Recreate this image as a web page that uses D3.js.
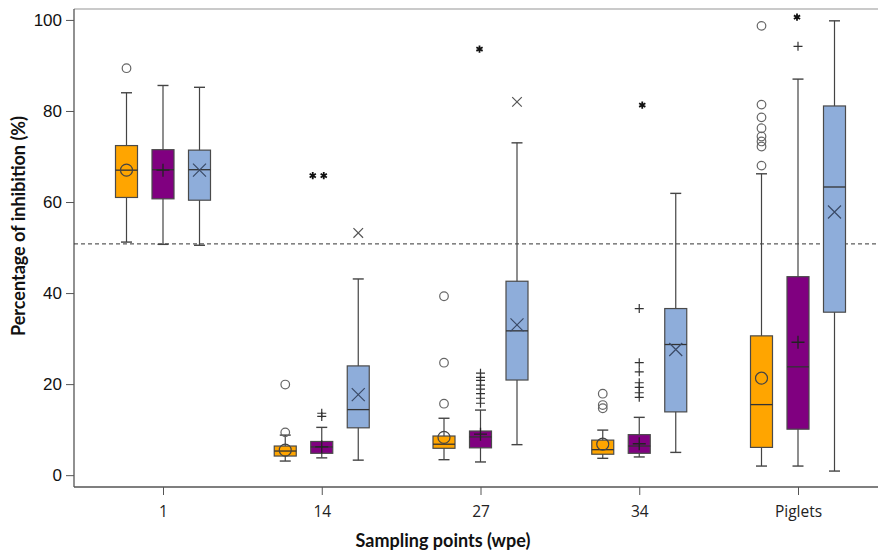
<!DOCTYPE html>
<html>
<head>
<meta charset="utf-8">
<script src="https://cdn.jsdelivr.net/npm/d3@7"></script>
<style>
  body { margin: 0; background: #fff; }
  svg { display: block; }
</style>
</head>
<body>
<div id="chart"></div>
<script>
// sampling points on the x axis
const categories = ["1", "14", "27", "34", "Piglets"];
const series = ["orange", "purple", "blue"];
const yTicks = [0, 20, 40, 60, 80, 100];
const cutoff = 50.8;

// box stats per category: [lower whisker, q1, median, q3, upper whisker, mean]
const orangeStats = [
  [51.2, 61.0, 67.0, 72.4, 84.0, 67.0],
  [3.1, 4.2, 5.3, 6.4, 8.8, 5.5],
  [3.4, 5.9, 6.8, 8.6, 12.5, 8.3],
  [3.7, 4.6, 5.6, 7.7, 9.9, 6.8],
  [2.0, 6.1, 15.5, 30.6, 66.2, 21.3]
];
const purpleStats = [
  [50.7, 60.7, 67.1, 71.5, 85.6, 67.0],
  [3.8, 4.8, 6.2, 7.4, 10.5, 6.2],
  [2.9, 6.0, 8.4, 9.7, 14.3, 9.0],
  [4.0, 4.8, 6.4, 8.9, 12.7, 6.9],
  [2.0, 10.1, 23.8, 43.6, 87.0, 29.2]
];
const blueStats = [
  [50.5, 60.4, 67.1, 71.4, 85.2, 67.0],
  [3.3, 10.4, 14.4, 24.0, 43.1, 17.7],
  [6.7, 20.9, 31.7, 42.6, 73.0, 33.0],
  [5.0, 13.9, 28.7, 36.6, 61.9, 27.6],
  [0.9, 35.8, 63.3, 81.1, 99.8, 57.8]
];

// outliers: [category index, value]
const orangeOutliers = [
  [0, 89.4], [1, 19.9], [1, 9.4],
  [2, 39.3], [2, 24.7], [2, 15.7],
  [3, 17.9], [3, 15.4], [3, 14.7],
  [4, 98.7], [4, 81.4], [4, 78.6], [4, 76.2], [4, 74.4], [4, 73.3], [4, 72.2], [4, 68.0]
];
const purpleOutliers = [
  [1, 13.6], [1, 12.9],
  [2, 22.4], [2, 21.5], [2, 20.8], [2, 19.8], [2, 18.9], [2, 17.9], [2, 16.9], [2, 15.8],
  [3, 36.6], [3, 24.7], [3, 22.7], [3, 20.3], [3, 19.3], [3, 18.1], [3, 17.1],
  [4, 94.2]
];
const blueOutliers = [[1, 53.2], [2, 82.0]];
// extreme values shown as asterisks: [category index, value, horizontal nudge]
const purpleExtremes = [[1, 65.8, -9], [1, 65.8, 2], [2, 93.6, -1], [3, 81.3, 3], [4, 100.6, -1]];

const statsBySeries = { orange: orangeStats, purple: purpleStats, blue: blueStats };
const fills = { orange: "#FFA500", purple: "#800080", blue: "#8EADDA" };

const width = 878, height = 551;
const mLeft = 74, mRight = 878, mTop = 9, mBottom = 487;

const svg = d3.select("#chart").append("svg")
  .attr("width", width)
  .attr("height", height);

const x = d3.scalePoint().domain(categories).range([163, 798]);
const dx = d3.scalePoint().domain(series).range([-36.5, 36.5]);
const y = d3.scaleLinear().domain([-2.6, 102.4]).range([mBottom, mTop]);
const boxW = 22;

// frame
svg.append("line")
  .attr("x1", mLeft).attr("x2", mRight).attr("y1", mTop).attr("y2", mTop)
  .attr("stroke", "#b8b8b8").attr("stroke-width", 1.5);
svg.append("line")
  .attr("x1", mLeft).attr("x2", mRight).attr("y1", mBottom).attr("y2", mBottom)
  .attr("stroke", "#555").attr("stroke-width", 1.3);

// y axis
const yAxis = svg.append("g")
  .attr("transform", `translate(${mLeft},0)`)
  .call(d3.axisLeft(y).tickValues(yTicks).tickSize(8).tickPadding(4));
yAxis.select(".domain").attr("d", `M0,${mTop}V${mBottom}`).attr("stroke", "#555").attr("stroke-width", 1.3);
yAxis.selectAll(".tick line").attr("stroke", "#555");
yAxis.selectAll(".tick text")
  .style("font-family", "'Liberation Sans', Arial, sans-serif")
  .style("font-size", "17px")
  .attr("fill", "#111");

// x axis
const xAxis = svg.append("g")
  .attr("transform", `translate(0,${mBottom})`)
  .call(d3.axisBottom(x).tickSize(8).tickPadding(11));
xAxis.select(".domain").remove();
xAxis.selectAll(".tick line").attr("stroke", "#555");
xAxis.selectAll(".tick text")
  .style("font-family", "'Open Sans', sans-serif")
  .style("font-size", "15.5px")
  .attr("fill", "#222");

// reference line
svg.append("line")
  .attr("x1", mLeft).attr("x2", mRight)
  .attr("y1", y(cutoff)).attr("y2", y(cutoff))
  .attr("stroke", "#333").attr("stroke-width", 1)
  .attr("stroke-dasharray", "4,3");

// boxes
const boxData = [];
series.forEach(s => {
  statsBySeries[s].forEach((d, i) => {
    boxData.push({ s, cat: categories[i], lo: d[0], q1: d[1], med: d[2], q3: d[3], hi: d[4], mean: d[5] });
  });
});

const boxes = svg.append("g").selectAll("g")
  .data(boxData)
  .enter()
  .append("g")
  .attr("transform", d => `translate(${x(d.cat) + dx(d.s)},0)`);

boxes.append("line")
  .attr("y1", d => y(d.hi)).attr("y2", d => y(d.lo))
  .attr("stroke", "#444").attr("stroke-width", 1.2);
boxes.append("line")
  .attr("x1", -5.5).attr("x2", 5.5)
  .attr("y1", d => y(d.hi)).attr("y2", d => y(d.hi))
  .attr("stroke", "#444").attr("stroke-width", 1.4);
boxes.append("line")
  .attr("x1", -5.5).attr("x2", 5.5)
  .attr("y1", d => y(d.lo)).attr("y2", d => y(d.lo))
  .attr("stroke", "#444").attr("stroke-width", 1.4);
boxes.append("rect")
  .attr("x", -boxW / 2).attr("width", boxW)
  .attr("y", d => y(d.q3))
  .attr("height", d => y(d.q1) - y(d.q3))
  .attr("fill", d => fills[d.s])
  .attr("stroke", "#4a4a4a").attr("stroke-width", 1.2);
boxes.append("line")
  .attr("x1", -boxW / 2).attr("x2", boxW / 2)
  .attr("y1", d => y(d.med)).attr("y2", d => y(d.med))
  .attr("stroke", "#333").attr("stroke-width", 1.3);

// marker paths
function plusPath(r) { return `M${-r},0H${r}M0,${-r}V${r}`; }
function timesPath(r) { return `M${-r},${-r}L${r},${r}M${-r},${r}L${r},${-r}`; }
function starPath(r) {
  const a = r * 0.87, b = r * 0.5;
  return `M0,${-r}V${r}M${-a},${-b}L${a},${b}M${-a},${b}L${a},${-b}`;
}

// means
boxes.filter(d => d.s === "orange").append("circle")
  .attr("cy", d => y(d.mean)).attr("r", 6)
  .attr("fill", "none").attr("stroke", "#444").attr("stroke-width", 1.2);
boxes.filter(d => d.s === "purple").append("path")
  .attr("transform", d => `translate(0,${y(d.mean)})`)
  .attr("d", plusPath(6.5))
  .attr("stroke", "#222").attr("stroke-width", 1.3);
boxes.filter(d => d.s === "blue").append("path")
  .attr("transform", d => `translate(0,${y(d.mean)})`)
  .attr("d", timesPath(6.5))
  .attr("stroke", "#3a4a66").attr("stroke-width", 1.2);

// outliers
const pts = svg.append("g");
pts.selectAll("circle")
  .data(orangeOutliers)
  .enter()
  .append("circle")
  .attr("cx", d => x(categories[d[0]]) + dx("orange"))
  .attr("cy", d => y(d[1]))
  .attr("r", 4.3)
  .attr("fill", "none").attr("stroke", "#666").attr("stroke-width", 1.2);
pts.selectAll("path.plus")
  .data(purpleOutliers)
  .enter()
  .append("path")
  .attr("class", "plus")
  .attr("transform", d => `translate(${x(categories[d[0]]) + dx("purple")},${y(d[1])})`)
  .attr("d", plusPath(4.5))
  .attr("stroke", "#333").attr("stroke-width", 1.2);
pts.selectAll("path.times")
  .data(blueOutliers)
  .enter()
  .append("path")
  .attr("class", "times")
  .attr("transform", d => `translate(${x(categories[d[0]]) + dx("blue")},${y(d[1])})`)
  .attr("d", timesPath(4.8))
  .attr("stroke", "#555").attr("stroke-width", 1.2);
pts.selectAll("path.star")
  .data(purpleExtremes)
  .enter()
  .append("path")
  .attr("class", "star")
  .attr("transform", d => `translate(${x(categories[d[0]]) + dx("purple") + d[2]},${y(d[1])})`)
  .attr("d", starPath(3.6))
  .attr("stroke", "#111").attr("stroke-width", 1.8);

// axis titles
svg.append("text")
  .attr("transform", `translate(25,${(mTop + mBottom) / 2 - 22}) rotate(-90)`)
  .attr("text-anchor", "middle")
  .style("font-family", "Lato, 'Open Sans', sans-serif")
  .style("font-weight", "bold")
  .style("font-size", "18px")
  .attr("fill", "#111")
  .text("Percentage of inhibition (%)");
svg.append("text")
  .attr("x", 443).attr("y", 547)
  .attr("text-anchor", "middle")
  .style("font-family", "Lato, 'Open Sans', sans-serif")
  .style("font-weight", "bold")
  .style("font-size", "18px")
  .attr("fill", "#111")
  .text("Sampling points (wpe)");
</script>
</body>
</html>
